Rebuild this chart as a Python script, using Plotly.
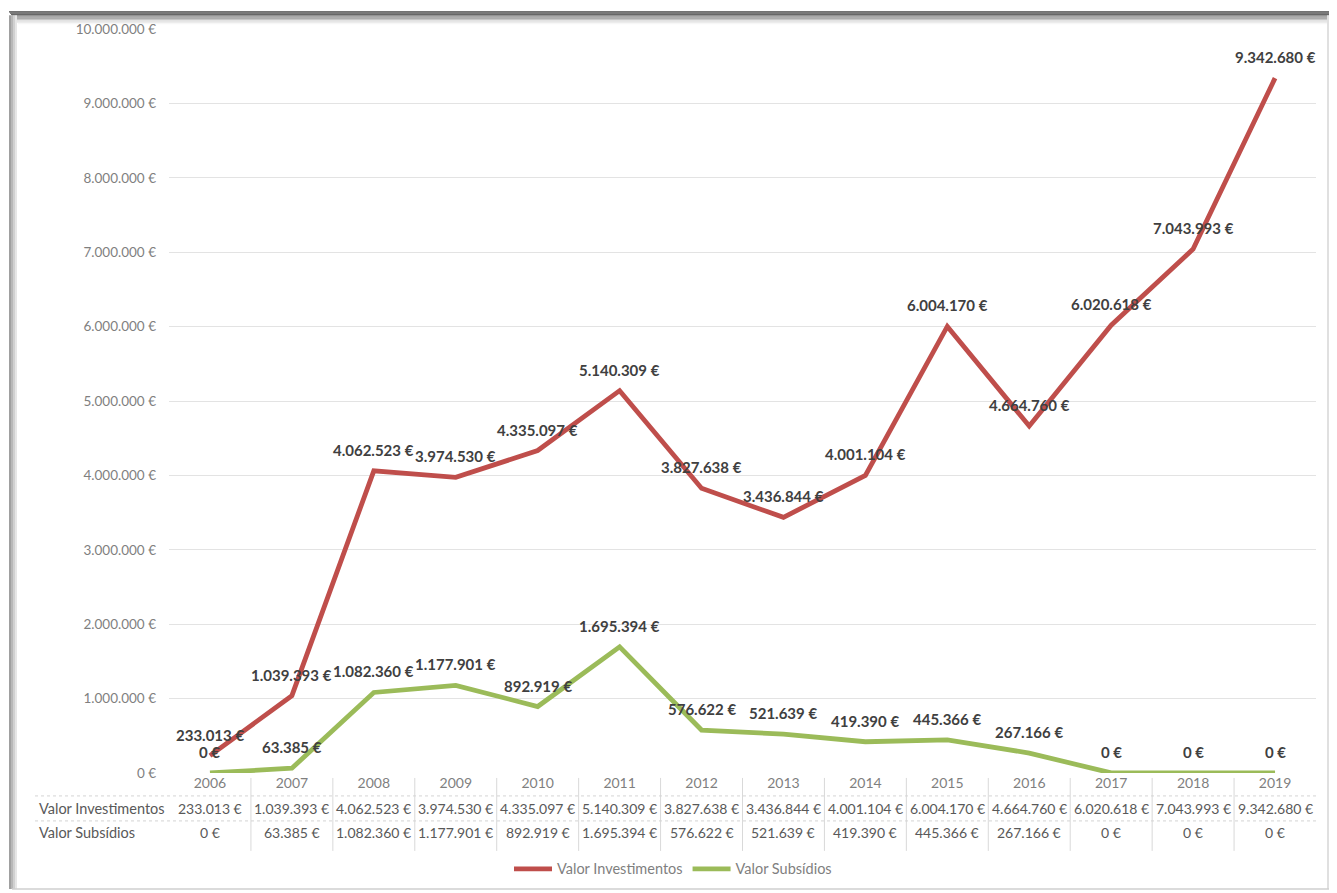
import plotly.graph_objects as go

years = ["2006", "2007", "2008", "2009", "2010", "2011", "2012",
         "2013", "2014", "2015", "2016", "2017", "2018", "2019"]
investimentos = [233013, 1039393, 4062523, 3974530, 4335097, 5140309, 3827638,
                 3436844, 4001104, 6004170, 4664760, 6020618, 7043993, 9342680]
subsidios = [0, 63385, 1082360, 1177901, 892919, 1695394, 576622,
             521639, 419390, 445366, 267166, 0, 0, 0]
y_ticks = [0, 1000000, 2000000, 3000000, 4000000, 5000000,
           6000000, 7000000, 8000000, 9000000, 10000000]
series_names = ["Valor Investimentos", "Valor Subsídios"]
series_colors = ["#BF4E4B", "#9BBB59"]

OFF_X = 8
W, H = 1337 - 2 * OFF_X, 893
SY, TY = 0.9825, 15.0   # observed vertical mapping of the page photo


def eur(v):
    return f"{v:,}".replace(",", ".") + " €"


def px(x):
    return (x - OFF_X) / W


def py(y):
    return 1 - (y / SY - TY) / H


FONT = "Lato"
plot_left, plot_right = 169, 1316
plot_top, plot_bottom = 28, 772
idx = list(range(len(years)))

fig = go.Figure()
for name, vals, col in zip(series_names, [investimentos, subsidios], series_colors):
    fig.add_trace(go.Scatter(x=idx, y=vals, mode="lines", name=name,
                             line=dict(color=col, width=4.8),
                             text=years, hovertemplate="%{text}: %{y}<extra></extra>"))

annotations = []
# data labels
for vals in [investimentos, subsidios]:
    for i, v in zip(idx, vals):
        annotations.append(dict(x=i, y=v, xref="x", yref="y", text="<b>" + eur(v) + "</b>",
                                showarrow=False, yshift=21,
                                font=dict(family=FONT, size=15, color="#404040")))

# data table rows
row_y = [808, 832]
for name, vals, ry in zip(series_names, [investimentos, subsidios], row_y):
    annotations.append(dict(x=px(37), y=py(ry), xref="paper", yref="paper", text=name,
                            showarrow=False, xanchor="left", yanchor="middle",
                            font=dict(family=FONT, size=14.5, color="#595959")))
    for i, v in zip(idx, vals):
        annotations.append(dict(x=i, y=py(ry), xref="x", yref="paper", text=eur(v),
                                showarrow=False, xanchor="center", yanchor="middle",
                                font=dict(family=FONT, size=14, color="#595959")))

shapes = []
col_w = (plot_right - plot_left) / len(years)
# vertical table separators
for k in range(1, len(years)):
    xk = plot_left + k * col_w
    shapes.append(dict(type="line", xref="paper", yref="paper",
                       x0=px(xk), x1=px(xk), y0=py(777), y1=py(850),
                       line=dict(color="#d9d9d9", width=1)))
# horizontal table lines
for yy in [795, 820]:
    shapes.append(dict(type="line", xref="paper", yref="paper",
                       x0=px(35), x1=px(plot_right), y0=py(yy), y1=py(yy),
                       line=dict(color="#d4d4d4", width=1, dash="dot")))

# frame with shadow
top_cols = ["#454545", "#555555", "#676767", "#7c7c7c", "#949494", "#adadad",
            "#c6c6c6", "#dcdcdc", "#ececec", "#f7f7f7"]
for i, c in enumerate(top_cols):
    shapes.append(dict(type="rect", xref="paper", yref="paper",
                       x0=px(9 + i), x1=px(1334 - i * 0.5), y0=py(10 + 1.3 * i), y1=py(11.3 + 1.3 * i),
                       fillcolor=c, line=dict(width=0), layer="below"))
side_cols = ["#a0a0a0", "#b8b8b8", "#d0d0d0", "#e6e6e6"]
for i, c in enumerate(side_cols):
    shapes.append(dict(type="rect", xref="paper", yref="paper",
                       x0=px(9 + 2 * i), x1=px(11 + 2 * i), y0=py(14), y1=py(888),
                       fillcolor=c, line=dict(width=0), layer="below"))
right_cols = ["#8a8a8a", "#a5a5a5", "#c4c4c4", "#e0e0e0"]
for i, c in enumerate(right_cols):
    shapes.append(dict(type="rect", xref="paper", yref="paper",
                       x0=px(1335 - 2 * i), x1=px(1333 - 2 * i), y0=py(14), y1=py(888),
                       fillcolor=c, line=dict(width=0), layer="below"))
shapes.append(dict(type="line", xref="paper", yref="paper",
                   x0=px(12), x1=px(1330), y0=py(888), y1=py(888),
                   line=dict(color="#cfcfcf", width=1.5), layer="below"))

fig.update_layout(
    width=W, height=H,
    margin=dict(l=0, r=0, t=0, b=0),
    paper_bgcolor="white", plot_bgcolor="white",
    font=dict(family=FONT, size=13, color="#595959"),
    xaxis=dict(domain=[px(plot_left), px(plot_right)],
               range=[-0.5, len(years) - 0.5], showgrid=False, zeroline=False,
               showline=False, ticks="", tickvals=idx, ticktext=years,
               tickfont=dict(family=FONT, size=14, color="#7f7f7f"),
               fixedrange=True),
    yaxis=dict(domain=[py(plot_bottom), py(plot_top)], range=[0, 10000000],
               tickvals=y_ticks, ticktext=[eur(v) for v in y_ticks],
               showgrid=True, gridcolor="#e3e3e3", gridwidth=1, zeroline=False,
               showline=False, ticks="", ticklabelstandoff=12,
               tickfont=dict(family=FONT, size=13.5, color="#7f7f7f"), fixedrange=True),
    showlegend=True,
    legend=dict(orientation="h", x=px(673), xanchor="center", y=py(868), yanchor="middle",
                font=dict(family=FONT, size=14.5, color="#7f7f7f"),
                bgcolor="rgba(0,0,0,0)", itemwidth=38, tracegroupgap=0),
    annotations=annotations,
    shapes=shapes,
)

fig.write_html("out.html")
